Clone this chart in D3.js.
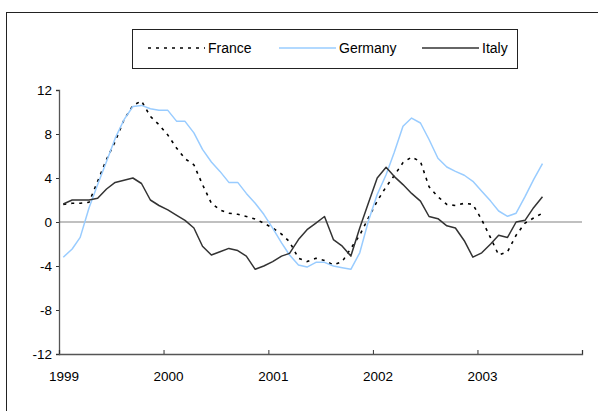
<!DOCTYPE html>
<html>
<head>
<meta charset="utf-8">
<script src="https://cdn.jsdelivr.net/npm/d3@7"></script>
<style>
  body { margin: 0; background: #fff; }
  text { font-family: "Liberation Sans", Arial, sans-serif; fill: #000; }
</style>
</head>
<body>
<div id="chart"></div>
<script>
// Monthly series, Jan 1999 .. Aug 2003.
const startMonth = new Date(1999, 0, 1);

const france = [
  1.6, 1.7, 1.7, 1.8, 3.7, 5.7, 7.3, 9.3, 10.6, 11.0, 9.6, 8.85,
  7.9, 6.7, 5.75, 5.2, 3.4, 1.7, 1.1, 0.8, 0.7, 0.5, 0.27, -0.1,
  -0.55, -1.1, -1.8, -3.3, -3.6, -3.3, -3.5, -3.9, -3.6, -2.4, -1.2, 0.36,
  1.9, 3.2, 4.2, 5.4, 5.9, 5.5, 3.2, 2.3, 1.6, 1.5, 1.7, 1.6,
  0.2, -1.45, -3.0, -2.7, -1.2, -0.1, 0.36, 0.8,
];

const germany = [
  -3.2, -2.45, -1.4, 1.3, 3.4, 5.5, 7.6, 9.3, 10.5, 10.6, 10.3, 10.15,
  10.15, 9.15, 9.15, 8.1, 6.6, 5.45, 4.6, 3.6, 3.6, 2.6, 1.7, 0.7,
  -0.55, -1.9, -3.0, -3.9, -4.1, -3.67, -3.67, -4.0, -4.15, -4.3, -2.8, 0.06,
  2.5, 4.3, 6.3, 8.7, 9.45, 9.0, 7.5, 5.8, 5.0, 4.6, 4.25, 3.7,
  2.8, 1.9, 1.0, 0.52, 0.8, 2.3, 3.85, 5.3,
];

const italy = [
  1.64, 2.0, 2.0, 2.0, 2.15, 3.0, 3.6, 3.8, 4.0, 3.5, 2.0, 1.5,
  1.1, 0.6, 0.15, -0.55, -2.2, -3.0, -2.7, -2.4, -2.6, -3.1, -4.3, -4.0,
  -3.6, -3.1, -2.85, -1.6, -0.7, -0.1, 0.5, -1.6, -2.2, -3.1, -0.55, 1.7,
  4.0, 4.97, 4.15, 3.4, 2.6, 1.9, 0.5, 0.3, -0.35, -0.55, -1.7, -3.2,
  -2.8, -2.0, -1.2, -1.4, 0.0, 0.15, 1.3, 2.3,
];

const yTicks = [-12, -8, -4, 0, 4, 8, 12];
const xTickYears = [1999, 2000, 2001, 2002, 2003];

const series = [
  { name: "France", values: france, color: "#000", width: 1.6, dash: "3,5" },
  { name: "Germany", values: germany, color: "#99ccff", width: 1.5, dash: null },
  { name: "Italy", values: italy, color: "#333", width: 1.5, dash: null },
];

const width = 598;
const height = 411;
const plot = { left: 59, right: 582, top: 90, bottom: 354 };
const fontFamily = '"Liberation Sans", Arial, sans-serif';

const svg = d3.select("#chart")
  .append("svg")
    .attr("width", width)
    .attr("height", height);

// Outer frame, runs off the right and bottom edges.
svg.append("rect")
    .attr("x", 6.5)
    .attr("y", 12.5)
    .attr("width", 700)
    .attr("height", 500)
    .attr("fill", "none")
    .attr("stroke", "#222")
    .attr("stroke-width", 1);

const x = d3.scaleTime()
  .domain([new Date(1999, 0, 1), new Date(2004, 0, 1)])
  .range([plot.left, plot.right]);

const y = d3.scaleLinear()
  .domain([-12, 12])
  .range([plot.bottom, plot.top]);

// Points sit in the middle of each month.
const dates = france.map((_, i) => d3.timeDay.offset(d3.timeMonth.offset(startMonth, i), 15));

// Zero line
svg.append("line")
    .attr("x1", plot.left)
    .attr("x2", plot.right)
    .attr("y1", y(0))
    .attr("y2", y(0))
    .attr("stroke", "#c0c0c0")
    .attr("stroke-width", 2);

// Y axis, plain hyphen for negatives like the original
const yAxis = svg.append("g")
    .attr("transform", `translate(${plot.left},0)`)
    .call(d3.axisLeft(y)
      .tickValues(yTicks)
      .tickSize(3)
      .tickPadding(4)
      .tickFormat(d => String(d)));

// X axis, ticks point inward
const xAxis = svg.append("g")
    .attr("transform", `translate(0,${plot.bottom})`)
    .call(d3.axisBottom(x)
      .tickValues(xTickYears.map(yr => new Date(yr, 0, 1)).concat([new Date(2004, 0, 1)]))
      .tickSize(-4)
      .tickFormat(d => d.getFullYear() < 2004 ? d.getFullYear() : ""));

[yAxis, xAxis].forEach(g => {
  g.attr("font-family", fontFamily).attr("font-size", 13.5);
  g.select(".domain").attr("stroke", "#555").attr("stroke-width", 1.3);
  g.selectAll(".tick line").attr("stroke", "#333");
  g.selectAll("text").attr("fill", "#000");
});

xAxis.selectAll("text")
    .attr("dx", 4.5)
    .attr("dy", "1.75em");

yAxis.selectAll("text")
    .attr("dy", "0.36em");

const line = d3.line()
  .x((d, i) => x(dates[i]))
  .y(d => y(d));

series.forEach(s => {
  svg.append("path")
      .datum(s.values)
      .attr("d", line)
      .attr("fill", "none")
      .attr("stroke", s.color)
      .attr("stroke-width", s.width)
      .attr("stroke-dasharray", s.dash)
      .attr("stroke-linejoin", "round");
});

// Legend
const legend = svg.append("g")
    .attr("font-family", fontFamily)
    .attr("font-size", 14);

legend.append("rect")
    .attr("x", 132.5)
    .attr("y", 29.5)
    .attr("width", 385)
    .attr("height", 39)
    .attr("fill", "#fff")
    .attr("stroke", "#222");

const legendX = [148, 279, 422];

series.forEach((s, i) => {
  legend.append("line")
      .attr("x1", legendX[i])
      .attr("x2", legendX[i] + 57)
      .attr("y1", 48)
      .attr("y2", 48)
      .attr("stroke", s.color)
      .attr("stroke-width", s.width)
      .attr("stroke-dasharray", s.dash);

  legend.append("text")
      .attr("x", legendX[i] + 60)
      .attr("y", 48)
      .attr("dy", "0.36em")
      .text(s.name);
});
</script>
</body>
</html>
